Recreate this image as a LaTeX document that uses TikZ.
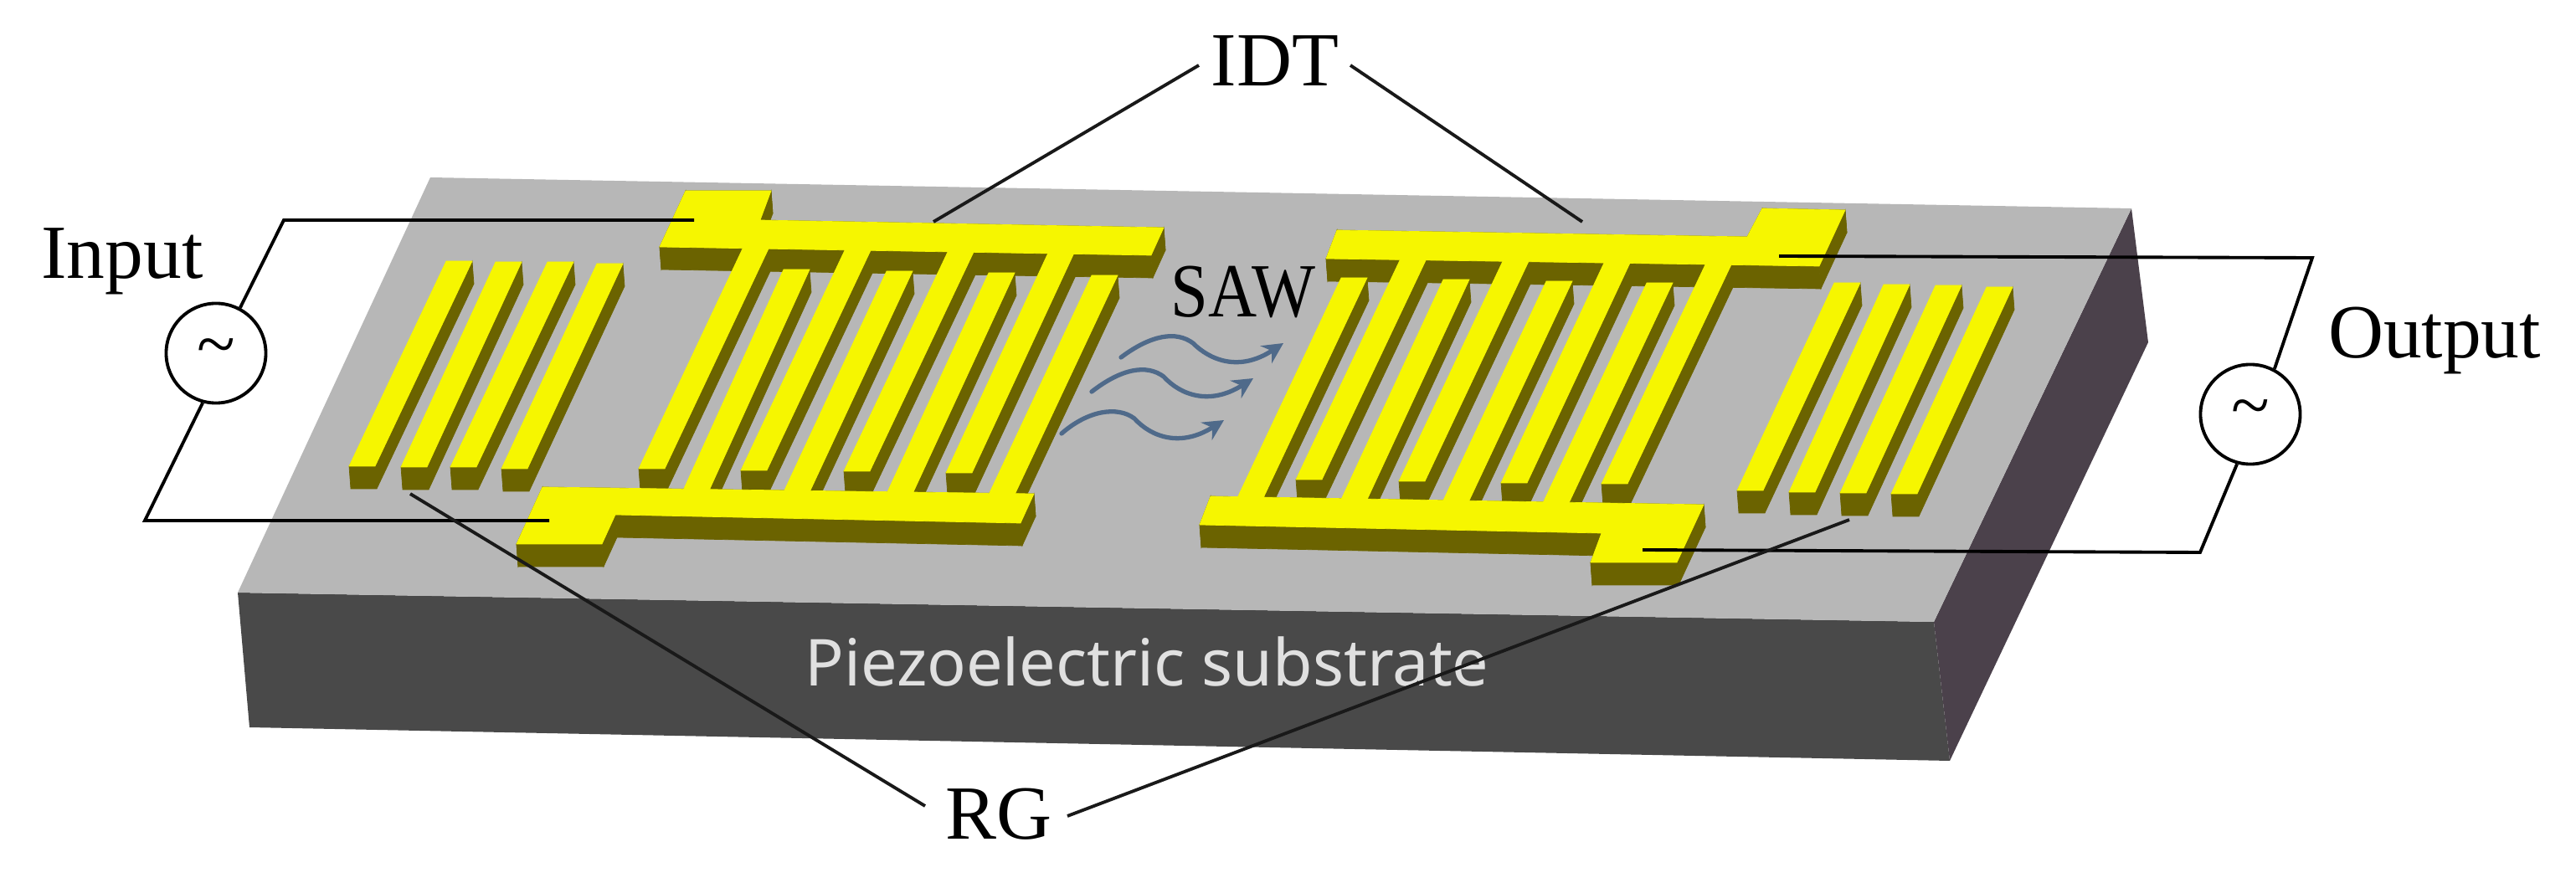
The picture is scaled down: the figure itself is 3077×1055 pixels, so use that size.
\documentclass[tikz,border=0pt]{standalone}
\usepackage{fontspec}
\setmainfont{Liberation Serif}
\newfontfamily\subfont{Noto Sans}
\definecolor{topc}{HTML}{B7B7B7}
\definecolor{frontc}{HTML}{494949}
\definecolor{sidec}{HTML}{4B414B}
\definecolor{gold}{HTML}{F6F600}
\definecolor{golddark}{HTML}{6B6300}
\definecolor{wavec}{HTML}{4F6A8A}
\tikzset{
  wire/.style={draw=black,line width=1.1pt,line join=miter},
  lead/.style={draw=black!90,line width=1.1pt},
  lbl/.style={font=\fontsize{26}{30}\selectfont,inner sep=0pt,anchor=base},
  source/.style={circle,draw=black,fill=white,line width=1.1pt,minimum size=3.5cm*0.34,inner sep=0pt},
  wavy/.style={draw=wavec,line width=1.5pt,-{Stealth[length=7pt,width=7pt]},line cap=round},
  goldface/.style={fill=gold,draw=gold,line width=.2pt},
  golddk/.style={fill=golddark,draw=golddark,line width=.2pt}
}
\usetikzlibrary{arrows.meta}
% sweep of a polygon outline downwards: the visible thickness of the metal
\newcommand\prism[3]{%
  \foreach \qx/\qy [remember=\qx as \px (initially #1),remember=\qy as \py (initially #2)] in {#3}{%
    \path[golddk] (\px,\py)--(\px+2,\py+27)--(\qx+2,\qy+27)--(\qx,\qy)--cycle;}}
\newcommand\fingerlist{533/312/417/557,592/313/479/558,654/313/538/558,713/315/599/560,%
 888/295/763/560,1010/297/885/562,1133/299/1008/563,1253/300/1130/565,%
 936/322/816/586,1059/324/936/588,1181/326/1059/590,1304/329/1181/591,%
 1673/309/1548/573,1796/310/1671/575,1917/312/1793/577,2038/314/1913/578,%
 1602/332/1477/597,1724/334/1601/599,1847/336/1723/600,1967/338/1843/601,%
 2191/338/2075/586,2250/340/2137/588,2312/341/2198/589,2373/343/2259/590}
\begin{document}
\begin{tikzpicture}[x=0.01cm,y=-0.01cm]
\useasboundingbox (0,0) rectangle (3077,1055);
% substrate
\fill[frontc] (284,708)--(2310,743)--(2329,909)--(298,869)--cycle;
\fill[sidec] (2546,249)--(2566,409)--(2329,909)--(2310,743)--cycle;
\fill[topc] (514,212)--(2546,249)--(2310,743)--(284,708)--cycle;
\node[inner sep=0pt,anchor=base,text=white!88!black,font=\subfont\fontsize{22}{26}\selectfont] (subst) at (1370,820) {Piezoelectric substrate};
% dark faces
\foreach \a/\b/\c/\d in \fingerlist {
  \path[golddk] (\c,\d)--(\c+2,\d+27)--(\c+33,\d+27)--(\a+33,\b+27)--(\a+31,\b)--cycle;
}
\prism{788}{295}{819/228,921/228,908/263,1390/272,1375/305,788/295}
\prism{648}{582}{1235/590,1219/625,735/615,719/650,617/650,648/582}
\prism{1597}{275}{2087/283,2105/249,2204/251,2173/318,1584/309,1597/275}
\prism{1446}{593}{2035/603,2003/672,1900/672,1913/637,1433/627,1446/593}
% top faces
\foreach \a/\b/\c/\d in \fingerlist {
  \path[goldface] (\c,\d)--(\c+31,\d)--(\a+31,\b)--(\a,\b)--cycle;
}
\path[goldface] (819,228)--(921,228)--(908,263)--(1390,272)--(1375,305)--(788,295)--cycle;
\path[goldface] (648,582)--(1235,590)--(1219,625)--(735,615)--(719,650)--(617,650)--cycle;
\path[goldface] (1597,275)--(2087,283)--(2105,249)--(2204,251)--(2173,318)--(1584,309)--cycle;
\path[goldface] (1446,593)--(2035,603)--(2003,672)--(1900,672)--(1913,637)--(1433,627)--cycle;
% wave arrows
\draw[wavy] (1339,427) .. controls (1375,400) and (1405,395) .. (1425,410) .. controls (1445,430) and (1480,445) .. (1533,410);
\draw[wavy] (1304,468) .. controls (1340,440) and (1370,435) .. (1390,450) .. controls (1410,472) and (1445,485) .. (1497,452);
\draw[wavy] (1268,518) .. controls (1300,490) and (1335,485) .. (1355,500) .. controls (1375,522) and (1410,535) .. (1462,502);
% sources
\node[source] (insrc) at (258,422) {};
\node[source] (outsrc) at (2688,495) {};
\node[inner sep=0pt,font=\fontsize{24}{24}\selectfont] (intilde) at (258,422) {\char"007E};
\node[inner sep=0pt,font=\fontsize{24}{24}\selectfont] (outtilde) at (2688,495) {\char"007E};
% end points of the wires
\coordinate (inpadT) at (829,263);
\coordinate (inpadB) at (656,622);
\coordinate (inT) at (339,263);
\coordinate (inB) at (173,622);
\coordinate (outpadT) at (2125,306);
\coordinate (outpadB) at (1962,657);
\coordinate (outT) at (2762,308);
\coordinate (outB) at (2628,660);
\draw[wire] (inpadT)--(inT)--(insrc.62);
\draw[wire] (insrc.-105)--(inB)--(inpadB);
\draw[wire] (outpadT)--(outT)--(outsrc.62);
\draw[wire] (outsrc.-105)--(outB)--(outpadB);
% labels
\node[lbl] (inputl) at (146,333) {Input};
\node[lbl] (outputl) at (2908,428) {Output};
\node[lbl] (sawl) at (1485,379) {\scalebox{0.88}[1]{SAW}};
\node[lbl] (idtl) at (1523,103) {IDT};
\node[lbl] (rgl) at (1193,1002) {RG};
% leaders
\coordinate (idtA) at (1115,265);
\coordinate (idtB) at (1890,265);
\coordinate (rgA) at (490,590);
\coordinate (rgB) at (2209,621);
\draw[lead] (1432,78)--(idtA);
\draw[lead] (1613,78)--(idtB);
\draw[lead] (1105,963)--(rgA);
\draw[lead] (1275,975)--(rgB);
\end{tikzpicture}
\end{document}
